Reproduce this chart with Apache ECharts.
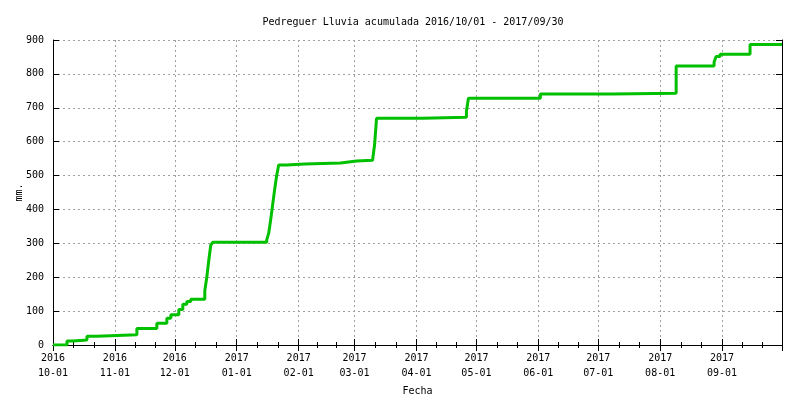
<!DOCTYPE html>
<html>
<head>
<meta charset="utf-8">
<script src="https://cdn.jsdelivr.net/npm/echarts@6/dist/echarts.min.js"></script>
<style>html,body{margin:0;padding:0;background:#fff}#c{width:800px;height:400px}</style>
</head>
<body>
<div id="c"></div>
<script>
const titleText = 'Pedreguer Lluvia acumulada 2016/10/01 - 2017/09/30';
const dates = ['2016-10-01','2016-10-08','2016-10-11','2016-10-18','2016-10-23','2016-11-12','2016-11-22','2016-11-27','2016-11-29','2016-12-03','2016-12-05','2016-12-07','2016-12-09','2016-12-16','2016-12-17','2016-12-18','2016-12-19','2016-12-20','2017-01-16','2017-01-17','2017-01-18','2017-01-19','2017-01-20','2017-01-21','2017-01-22','2017-01-26','2017-02-04','2017-02-22','2017-02-23','2017-03-02','2017-03-10','2017-03-11','2017-03-12','2017-04-04','2017-04-26','2017-04-27','2017-06-02','2017-07-08','2017-08-09','2017-08-28','2017-08-29','2017-08-31','2017-09-15','2017-10-01'];
const rain = [0,12,15,26,30,49,64,79,89,105,120,128,135,160,200,250,295,303,310,330,370,415,460,500,531,534,537,541,543,545,547,590,669,672,690,728,741,743,823,835,851,858,887,887];
const xMin = '2016-10-01', xMax = '2017-10-01';
const yTicks = [0,100,200,300,400,500,600,700,800,900];

const font = 'DejaVu Sans Mono';
const chart = echarts.init(document.getElementById('c'));
const pad = n => (n < 10 ? '0' : '') + n;
const maxTime = new Date(2017, 9, 1).getTime();
const tickCommon = {show: true, inside: true, length: 6, lineStyle: {color: '#000', width: 1}};
chart.setOption({
  animation: false,
  title: {text: titleText, left: 408, top: 12, textAlign: 'center',
    textStyle: {fontFamily: font, fontSize: 10, fontWeight: 'normal', color: '#000'}},
  grid: {left: 53, right: 18, top: 40, bottom: 55, containLabel: false, outerBoundsMode: 'none'},
  xAxis: [{
    type: 'time', min: xMin, max: xMax, splitNumber: 12,
    minInterval: 28 * 86400000, maxInterval: 31 * 86400000,
    name: 'Fecha', nameLocation: 'middle', nameGap: 41,
    nameTextStyle: {fontFamily: font, fontSize: 10, color: '#000'},
    axisLine: {show: true, lineStyle: {color: '#000', width: 1}},
    axisTick: tickCommon,
    minorTick: {show: true, splitNumber: 3, length: 3, lineStyle: {color: '#000'}},
    axisLabel: {fontFamily: font, fontSize: 10, color: '#000', margin: 6, lineHeight: 15,
      hideOverlap: false,
      formatter: v => { if (v >= maxTime) return ''; const d = new Date(v); return d.getFullYear() + '\n' + pad(d.getMonth() + 1) + '-' + pad(d.getDate()); }},
    splitLine: {show: true, lineStyle: {color: '#a0a0a0', type: [2, 3], width: 1}}
  }, {
    type: 'time', min: xMin, max: xMax, splitNumber: 12, position: 'top',
    minInterval: 28 * 86400000, maxInterval: 31 * 86400000,
    axisLine: {show: true, lineStyle: {color: '#000', width: 1}},
    axisTick: tickCommon,
    minorTick: {show: true, splitNumber: 3, length: 3, lineStyle: {color: '#000'}},
    axisLabel: {show: false}, splitLine: {show: false}
  }],
  yAxis: [{
    type: 'value', min: yTicks[0], max: yTicks[yTicks.length - 1], interval: 100,
    name: 'mm.', nameLocation: 'middle', nameGap: 29, nameRotate: 90, nameMoveOverlap: false,
    nameTextStyle: {fontFamily: font, fontSize: 10, color: '#000'},
    axisLine: {show: true, lineStyle: {color: '#000', width: 1}},
    axisTick: tickCommon,
    axisLabel: {fontFamily: font, fontSize: 10, color: '#000', margin: 9},
    splitLine: {show: true, lineStyle: {color: '#a0a0a0', type: [2, 3], width: 1}}
  }, {
    type: 'value', min: yTicks[0], max: yTicks[yTicks.length - 1], interval: 100, position: 'right',
    axisLine: {show: true, lineStyle: {color: '#000', width: 1}},
    axisTick: tickCommon, axisLabel: {show: false}, splitLine: {show: false}
  }],
  series: [{
    type: 'line', step: 'end', showSymbol: false, symbol: 'none',
    xAxisIndex: 0, yAxisIndex: 0,
    lineStyle: {color: '#00c000', width: 3},
    data: dates.map((d, i) => [d, rain[i]])
  }]
});
</script>
</body>
</html>
